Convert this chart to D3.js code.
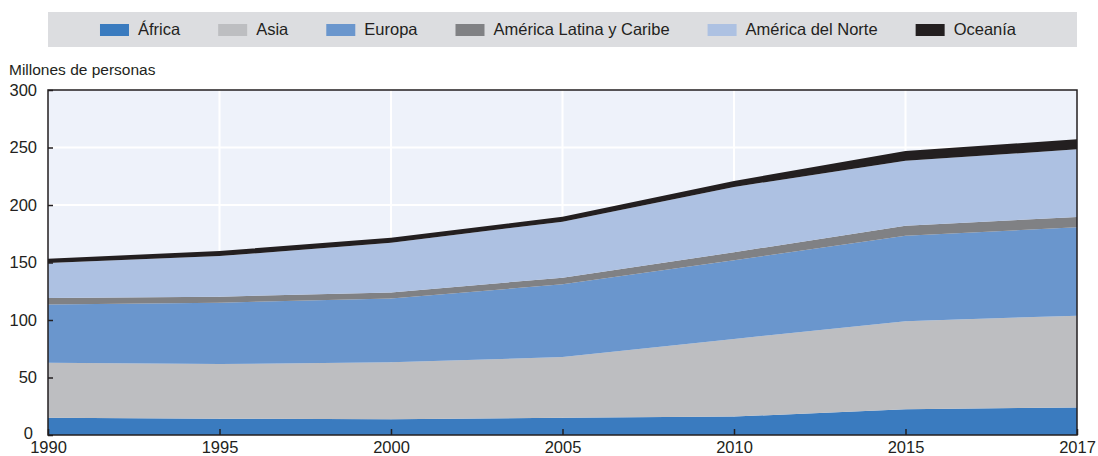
<!DOCTYPE html>
<html>
<head>
<meta charset="utf-8">
<script src="https://cdn.jsdelivr.net/npm/d3@7"></script>
<style>
  body { margin: 0; background: #fff; }
  svg text { font-family: "Liberation Sans", Arial, sans-serif; fill: #231f20; }
</style>
</head>
<body>
<div id="draw"></div>
<script>
// data (millones de personas)
let years = ['1990', '1995', '2000', '2005', '2010', '2015', '2017'];
let regions = ['África', 'Asia', 'Europa', 'América Latina y Caribe', 'América del Norte', 'Oceanía'];
let africa = [15.1, 14.2, 13.6, 15.0, 16.0, 22.3, 24.0];
let asia = [47.8, 47.5, 49.6, 52.8, 67.5, 76.7, 79.8];
let europa = [50.6, 53.3, 55.6, 63.2, 68.5, 74.3, 76.8];
let latam = [5.6, 5.3, 5.2, 5.8, 6.9, 8.7, 9.0];
let norte = [30.4, 35.3, 43.2, 48.7, 56.8, 56.5, 58.8];
let oceania = [3.8, 4.4, 4.4, 4.3, 5.2, 8.5, 8.7];
let yTicks = [0, 50, 100, 150, 200, 250, 300];

let colors = ['#3a7bbf', '#bdbec1', '#6a96cd', '#808184', '#adc1e2', '#231f20'];

let series = [africa, asia, europa, latam, norte, oceania];
let rows = years.map((y, i) => {
    let r = { year: y };
    regions.forEach((k, j) => r[k] = series[j][i]);
    return r;
});

// parameters
let width = 1098, height = 456;
let margin = { top: 90, left: 48, bottom: 21, right: 21 };
let pw = width - margin.left - margin.right,
    ph = height - margin.top - margin.bottom;

let svg = d3.select('#draw').append('svg').attr('width', width).attr('height', height);

// legend
let legend = svg.append('g');
legend.append('rect')
    .attr('x', 48).attr('y', 12)
    .attr('width', 1029).attr('height', 35)
    .style('fill', '#dcdde0');
let items = legend.append('g');
let lx = 0, gap = 38;
regions.forEach((k, i) => {
    let it = items.append('g').attr('transform', 'translate(' + lx + ',0)');
    it.append('rect').attr('x', 0).attr('y', 24).attr('width', 29).attr('height', 12)
        .style('fill', colors[i]);
    let t = it.append('text').attr('x', 38).attr('y', 35).style('font-size', '16.5px').text(k);
    lx += 38 + t.node().getComputedTextLength() + gap;
});
lx -= gap;
items.attr('transform', 'translate(' + (558 - lx / 2) + ',0)');

svg.append('text').attr('x', 9).attr('y', 75).style('font-size', '15.5px').text('Millones de personas');

let g = svg.append('g').attr('transform', 'translate(' + margin.left + ',' + margin.top + ')');

let x = d3.scalePoint().domain(years).range([0, pw]);
let y = d3.scaleLinear().domain([0, 300]).range([ph, 0]);

g.append('rect').attr('width', pw).attr('height', ph).style('fill', '#eef2fa');

// grid
g.append('g').selectAll('line').data(yTicks.filter(d => d > 0 && d < 300)).enter().append('line')
    .attr('x1', 0).attr('x2', pw).attr('y1', d => y(d)).attr('y2', d => y(d))
    .style('stroke', '#fff').style('stroke-width', 2);
g.append('g').selectAll('line').data(years.slice(1, -1)).enter().append('line')
    .attr('x1', d => x(d)).attr('x2', d => x(d)).attr('y1', 0).attr('y2', ph)
    .style('stroke', '#fff').style('stroke-width', 2);

// stacked areas
let stack = d3.stack().keys(regions);
let area = d3.area()
    .x(d => x(d.data.year))
    .y0(d => y(d[0]))
    .y1(d => y(d[1]));
g.append('g').selectAll('path').data(stack(rows)).enter().append('path')
    .attr('d', area)
    .style('fill', (d, i) => colors[i]);

// axes
let yAxis = d3.axisLeft(y).tickValues(yTicks).tickSize(-5).tickPadding(11);
let ya = g.append('g').call(yAxis);
ya.select('.domain').remove();
ya.selectAll('line').style('stroke', '#231f20').style('stroke-width', 1.5);
ya.selectAll('text').style('font-size', '16.5px').style('fill', '#231f20');
ya.selectAll('.tick').filter(d => d === 0).select('text').attr('x', -15).attr('dy', '0.2em');

let xAxis = d3.axisBottom(x).tickSize(-6).tickPadding(6);
let xa = g.append('g').attr('transform', 'translate(0,' + ph + ')').call(xAxis);
xa.select('.domain').remove();
xa.selectAll('line').style('stroke', '#231f20').style('stroke-width', 1.5);
xa.selectAll('text').style('font-size', '16.5px').style('fill', '#231f20');

// frame
g.append('rect').attr('width', pw).attr('height', ph)
    .style('fill', 'none').style('stroke', '#231f20').style('stroke-width', 1.5);
</script>
</body>
</html>
